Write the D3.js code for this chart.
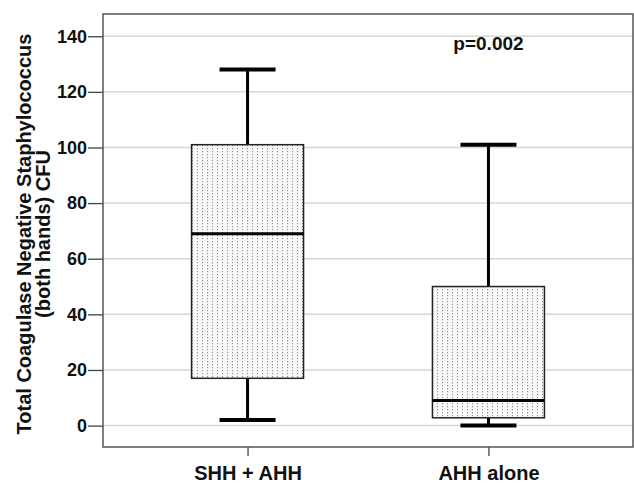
<!DOCTYPE html>
<html>
<head>
<meta charset="utf-8">
<script src="https://cdn.jsdelivr.net/npm/d3@7"></script>
<style>
  body { margin: 0; background: #fff; }
  text { font-family: "Liberation Sans", Arial, sans-serif; font-weight: bold; fill: #111; }
</style>
</head>
<body>
<div id="chart"></div>
<script>
const width = 634, height = 483;
const margin = { top: 14, right: 1, bottom: 36, left: 103 };

// data
const groups = ["SHH + AHH", "AHH alone"];
const mins    = [2, 0];
const q1s     = [17, 2.8];
const medians = [69, 9];
const q3s     = [101, 50];
const maxs    = [128, 101];
const yTicks  = [0, 20, 40, 60, 80, 100, 120, 140];
const pLabel  = "p=0.002";
const yTitle  = ["Total Coagulase Negative Staphylococcus", "(both hands) CFU"];

const boxes = groups.map((g, i) => ({
  group: g, min: mins[i], q1: q1s[i], median: medians[i], q3: q3s[i], max: maxs[i]
}));

const svg = d3.select("#chart").append("svg")
  .attr("width", width)
  .attr("height", height);

// dotted fill like spss
const pat = svg.append("defs").append("pattern")
  .attr("id", "dots")
  .attr("patternUnits", "userSpaceOnUse")
  .attr("width", 5)
  .attr("height", 3);
pat.append("rect").attr("width", 5).attr("height", 3).attr("fill", "#f7f7f7");
pat.append("rect").attr("x", 2).attr("y", 1).attr("width", 1).attr("height", 1.2).attr("fill", "#8f8f8f");

const x = d3.scalePoint()
  .domain(groups)
  .range([margin.left, width - margin.right])
  .padding(0.6);

const y = d3.scaleLinear()
  .domain([-7.7, 148])
  .range([height - margin.bottom, margin.top]);

const boxW = 112, capW = 56;

// gridlines
svg.append("g")
  .selectAll("line")
  .data(yTicks)
  .join("line")
  .attr("x1", margin.left)
  .attr("x2", width - margin.right)
  .attr("y1", d => y(d))
  .attr("y2", d => y(d))
  .attr("stroke", "#d6d6d6")
  .attr("stroke-width", 1.5);

// y axis
const yAxis = svg.append("g")
  .attr("transform", `translate(${margin.left},0)`)
  .call(d3.axisLeft(y).tickValues(yTicks).tickSize(15).tickPadding(1).tickSizeOuter(0));
yAxis.select(".domain").remove();
yAxis.selectAll(".tick line").attr("stroke", "#444").attr("stroke-width", 1.3);
yAxis.selectAll(".tick text")
  .style("font-size", "18px")
  .attr("fill", "#111");

// x axis
const xAxis = svg.append("g")
  .attr("transform", `translate(0,${height - margin.bottom})`)
  .call(d3.axisBottom(x).tickSize(9).tickPadding(10).tickSizeOuter(0));
xAxis.select(".domain").remove();
xAxis.selectAll(".tick line").attr("stroke", "#444").attr("stroke-width", 1.3);
xAxis.selectAll(".tick text")
  .style("font-size", "20px")
  .attr("fill", "#111");

// boxes
const g = svg.append("g");
boxes.forEach(d => {
  const cx = x(d.group);
  // whiskers
  g.append("line")
    .attr("x1", cx).attr("x2", cx)
    .attr("y1", y(d.q3)).attr("y2", y(d.max))
    .attr("stroke", "#000").attr("stroke-width", 3);
  g.append("line")
    .attr("x1", cx).attr("x2", cx)
    .attr("y1", y(d.q1)).attr("y2", y(d.min))
    .attr("stroke", "#000").attr("stroke-width", 3);
  g.append("line")
    .attr("x1", cx - capW / 2).attr("x2", cx + capW / 2)
    .attr("y1", y(d.max)).attr("y2", y(d.max))
    .attr("stroke", "#000").attr("stroke-width", 4);
  g.append("line")
    .attr("x1", cx - capW / 2).attr("x2", cx + capW / 2)
    .attr("y1", y(d.min)).attr("y2", y(d.min))
    .attr("stroke", "#000").attr("stroke-width", 4);
  g.append("rect")
    .attr("x", cx - boxW / 2)
    .attr("width", boxW)
    .attr("y", y(d.q3))
    .attr("height", y(d.q1) - y(d.q3))
    .attr("fill", "url(#dots)")
    .attr("stroke", "#222")
    .attr("stroke-width", 1.5);
  g.append("line")
    .attr("x1", cx - boxW / 2).attr("x2", cx + boxW / 2)
    .attr("y1", y(d.median)).attr("y2", y(d.median))
    .attr("stroke", "#000").attr("stroke-width", 3);
});

// frame
svg.append("rect")
  .attr("x", margin.left)
  .attr("y", margin.top)
  .attr("width", width - margin.right - margin.left)
  .attr("height", height - margin.bottom - margin.top)
  .attr("fill", "none")
  .attr("stroke", "#555")
  .attr("stroke-width", 1.5);

// p value
svg.append("text")
  .attr("x", x(groups[1]))
  .attr("y", 50)
  .attr("text-anchor", "middle")
  .style("font-size", "19px")
  .text(pLabel);

// y title
const ty = 234;
svg.append("text")
  .attr("transform", `translate(31,${ty}) rotate(-90)`)
  .attr("text-anchor", "middle")
  .style("font-size", "20px")
  .text(yTitle[0]);
svg.append("text")
  .attr("transform", `translate(50,${ty}) rotate(-90)`)
  .attr("text-anchor", "middle")
  .style("font-size", "20px")
  .text(yTitle[1]);
</script>
</body>
</html>
